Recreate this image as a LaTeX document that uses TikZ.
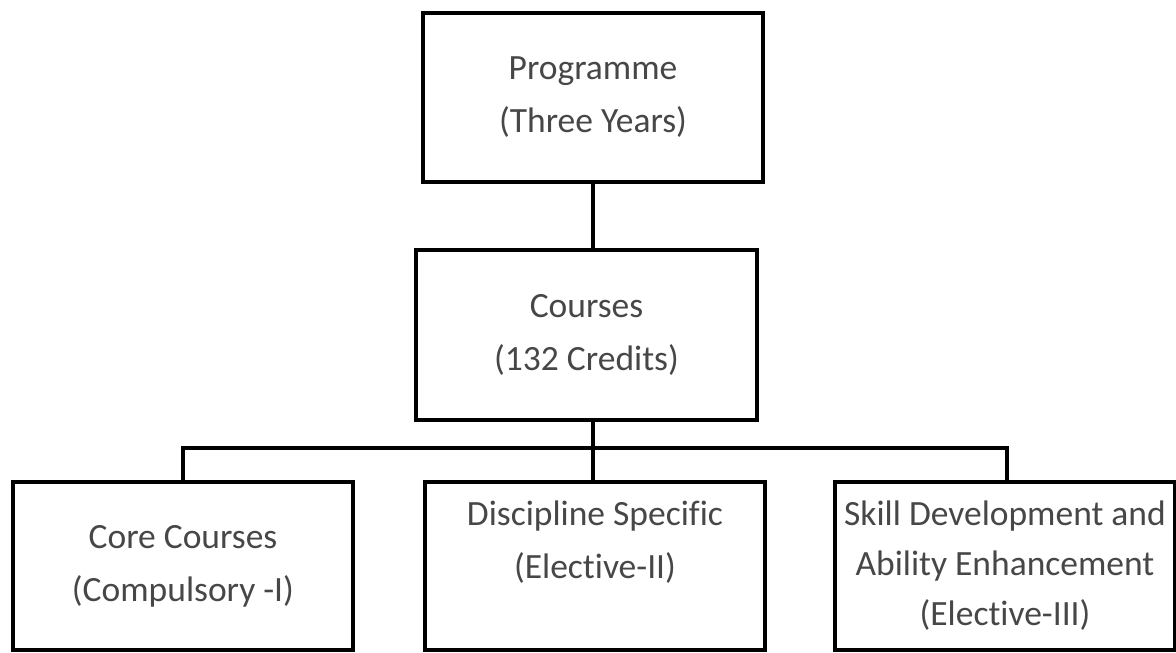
\documentclass[tikz,border=0pt]{standalone}
\usepackage{fontspec}
\setmainfont[Ligatures=NoCommon]{Carlito}
\usetikzlibrary{positioning}

\begin{document}
\begin{tikzpicture}[x=1pt,y=-1pt,
  box/.style={draw=black,line width=4pt,minimum width=340pt,minimum height=168pt,
    inner sep=2pt,align=center,text=black!72,font=\fontsize{35.5}{53}\selectfont},
  link/.style={draw=black,line width=4pt}]
\useasboundingbox[fill=white] (0,0) rectangle (1176,653);
\node[box,minimum height=169pt] (prog) at (593,97.5) {Programme\\(Three Years)};
\node[box,minimum width=341pt,minimum height=170pt] (courses) at (586.5,335) {Courses\\(132 Credits)};
\node[box] (core) at (183,566) {Core Courses\\(Compulsory -I)};
\node[box] (disc) at (595,566) {Discipline Specific\\(Elective-II)\\\mbox{}};
\node[box,font=\fontsize{35.5}{50}\selectfont] (skill) at (1005,566) {Skill Development and\\Ability Enhancement\\(Elective-III)};

\coordinate (hub) at (593,448);
\draw[link] (prog.south) -- (prog.south |- courses.north);
\draw[link] (courses.south -| hub) -- (disc.north -| hub);
\draw[link] (core.north) |- (hub) -| ([xshift=2pt]skill.north);

\end{tikzpicture}
\end{document}
